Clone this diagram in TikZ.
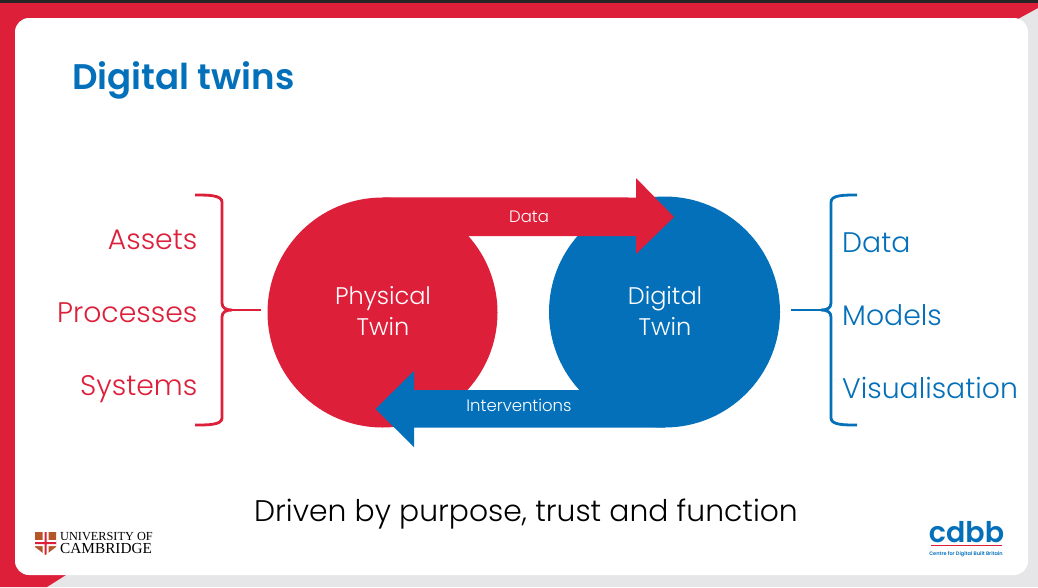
\documentclass[tikz,border=0pt]{standalone}
\usepackage{fontspec}
\setmainfont{Poppins Light}[BoldFont=Poppins SemiBold]
\newfontfamily\crestfont{Liberation Serif}
\definecolor{twinred}{HTML}{DD1F3A}
\definecolor{twinblue}{HTML}{0470BA}
\definecolor{slidegrey}{HTML}{E6E6E9}
\definecolor{crestbrown}{HTML}{B5562A}
\tikzset{
  lobe/.style={circle,minimum size=#1,inner sep=0pt},
  twintext/.style={text=white,align=center,inner sep=0pt,font=\fontsize{24}{31}\selectfont},
  flowlabel/.style={text=white,anchor=base,font=\fontsize{16.5}{20}\selectfont,inner sep=0pt},
  listred/.style={text=twinred,anchor=base east,inner sep=0pt,font=\fontsize{28.3}{32}\selectfont},
  listblue/.style={text=twinblue,anchor=base west,inner sep=0pt,font=\fontsize{28.3}{32}\selectfont},
  brace/.style={line width=2.8pt}
}
\begin{document}
\begin{tikzpicture}[x=1pt,y=-1pt]
    \useasboundingbox (0,0) rectangle (1038,587);
    % slide background
    \fill [slidegrey] (0,0) rectangle (1038,587);
    \fill [twinred] (0,0) -- (1038,0) -- (1038,8) -- (1016,20) -- (40,20) -- (40,575) -- (66,575) -- (47,587) -- (0,587) -- cycle;
    \fill [black!85] (0,0) rectangle (1038,3);
    \fill [white,rounded corners=14pt] (15,18) rectangle (1028,575);
    \node [text=twinblue,anchor=base west,inner sep=0pt,font=\fontsize{35.6}{40}\bfseries\selectfont] (title) at (72,89) {Digital twins};
    % twins
    \node [lobe=230pt,fill=twinred] (physical) at (382.5,312.5) {};
    \node [lobe=231pt,fill=twinblue] (digital) at (664.5,312) {};
    \fill [twinblue] (digital.south) -- (414,427.5) -- (414,447) -- (375.5,409) -- (414,371) -- (414,390) -- (664,390) -- cycle;
    \fill [twinred] (physical.north) -- (636,197.5) -- (636,178) -- (674,217) -- (636,254) -- (636,236) -- (382,236) -- cycle;
    \node [twintext] (physicaltext) at (383,311) {Physical\\Twin};
    \node [twintext] (digitaltext) at (665,311) {Digital\\Twin};
    \node [flowlabel] (data) at (529,222) {Data};
    \node [flowlabel] (interventions) at (519,411) {Interventions};
    % left list
    \node [listred] (assets) at (197.5,249) {Assets};
    \node [listred] (processes) at (197.5,322) {Processes};
    \node [listred] (systems) at (197.5,395) {Systems};
    \coordinate (redtip) at (261,310);
    \draw [brace,twinred] (195,195) .. controls (208,195) and (222,195) .. (222,202) -- (222,303) .. controls (222,308) and (226,310) .. (232,310) .. controls (226,310) and (222,312) .. (222,317) -- (222,418) .. controls (222,425) and (208,425) .. (195,425);
    \draw [brace,twinred] (232,310) -- (redtip);
    % right list
    \node [listblue] (dataitem) at (842,252) {Data};
    \node [listblue] (models) at (842,325) {Models};
    \node [listblue] (visual) at (842,398) {Visualisation};
    \coordinate (bluetip) at (791,310);
    \draw [brace,twinblue] (857,195) .. controls (844,195) and (831,195) .. (831,202) -- (831,303) .. controls (831,308) and (827,310) .. (821,310) .. controls (827,310) and (831,312) .. (831,317) -- (831,418) .. controls (831,425) and (844,425) .. (857,425);
    \draw [brace,twinblue] (821,310) -- (bluetip);
    \node [text=black,anchor=base,font=\fontsize{29.8}{34}\selectfont,inner sep=0pt] (purpose) at (526,521) {Driven by purpose, trust and function};
    % logos
    \fill [crestbrown] (35,532) -- (56,532) -- (56,547) -- (45.5,555) -- (35,547) -- cycle;
    \fill [white] (42.5,532) rectangle (48.5,554) (35,540) rectangle (56,546);
    \fill [twinred] (44.5,532) rectangle (46.5,554) (35,542) rectangle (56,544);
    \node [anchor=west,inner sep=0pt,align=left,font=\crestfont\fontsize{12.3}{13}\selectfont,text=black] (cambridge) at (60,543) {UNIVERSITY OF\\{\fontsize{15.3}{13}\selectfont CAMBRIDGE}};
    \node [text=twinblue,inner sep=0pt,font=\fontsize{28.5}{28}\bfseries\selectfont] (cdbb) at (966.5,532) {cdbb};
    \draw [twinred,line width=0.6pt] (931,545) -- (1002,545);
    \node [text=twinblue,inner sep=0pt,font=\fontsize{5}{6}\bfseries\selectfont] (cdbbtext) at (966,554) {Centre for Digital Built Britain};
\end{tikzpicture}
\end{document}
